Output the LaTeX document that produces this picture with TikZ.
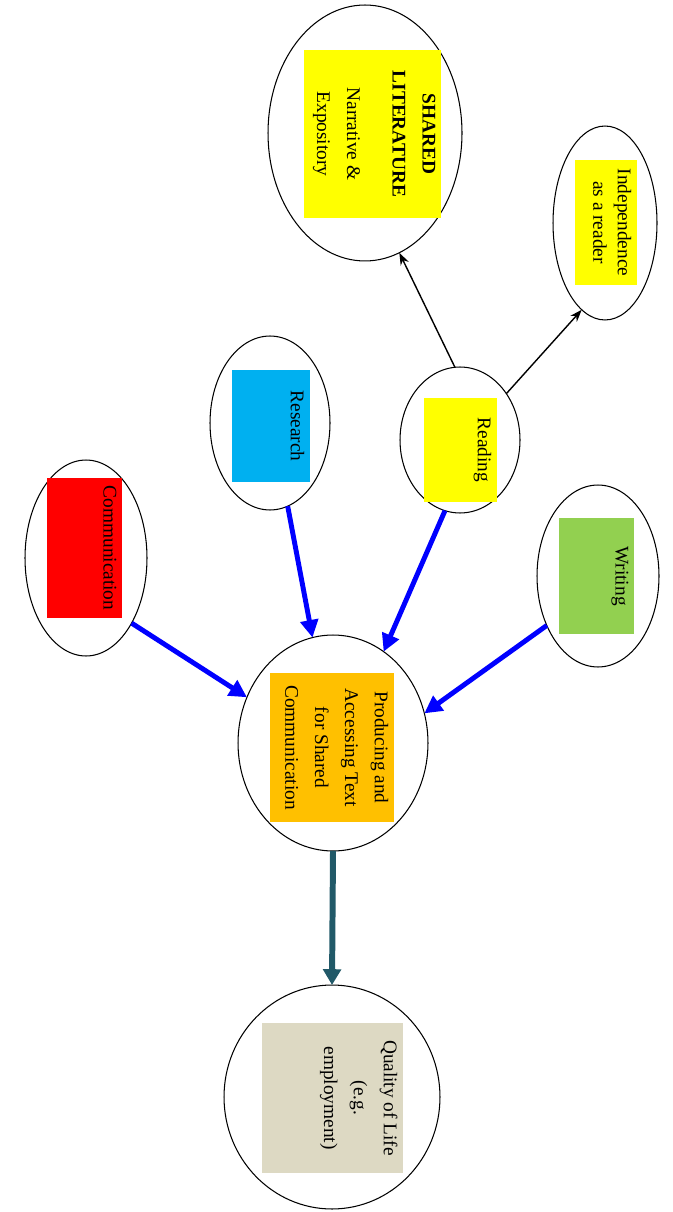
\documentclass[tikz,border=0pt]{standalone}
\usepackage{fontspec}
\setmainfont{Liberation Serif}
\usetikzlibrary{shapes,arrows.meta,positioning,calc}
\definecolor{litYellow}{RGB}{255,255,0}
\definecolor{resBlue}{RGB}{0,176,240}
\definecolor{comRed}{RGB}{255,0,0}
\definecolor{wriGreen}{RGB}{146,208,80}
\definecolor{proOrange}{RGB}{255,192,0}
\definecolor{qolBeige}{RGB}{221,217,195}
\definecolor{outTeal}{RGB}{33,89,104}

\begin{document}
\begin{tikzpicture}[x=0.02cm,y=-0.02cm]
        % Define styles
        \tikzstyle{bubble} = [ellipse, draw, line width=0.6pt, inner sep=0pt, outer sep=0pt]
        \tikzstyle{box} = [rectangle, inner sep=0pt, outer sep=0pt]
        \tikzstyle{txt} = [rotate=-90, anchor=north, align=center, inner sep=3pt,
            font=\fontsize{11}{17}\selectfont]
        \tikzstyle{link} = [line width=0.8pt, -{Stealth[length=7pt,width=5pt]}]
        \tikzstyle{feed} = [line width=2.8pt, blue, -{Triangle[length=10pt,width=10pt]}]
        \tikzstyle{outcome} = [line width=3.4pt, outTeal, -{Triangle[length=9pt,width=10pt]}]

        \useasboundingbox (0,0) rectangle (672,1212);

        % Ellipses
        \node [bubble, minimum width=3.88cm, minimum height=5.12cm] (lit) at (365,133) {};
        \node [bubble, minimum width=2.08cm, minimum height=3.88cm] (indep) at (605,223) {};
        \node [bubble, minimum width=2.4cm, minimum height=3.48cm] (research) at (270,423) {};
        \node [bubble, minimum width=2.4cm, minimum height=2.92cm] (reading) at (460,440) {};
        \node [bubble, minimum width=2.44cm, minimum height=3.92cm] (comm) at (86,558) {};
        \node [bubble, minimum width=2.44cm, minimum height=3.64cm] (writing) at (598,576) {};
        \node [bubble, minimum width=3.8cm, minimum height=4.32cm] (prod) at (333,743) {};
        \node [bubble, minimum width=4.32cm, minimum height=4.48cm] (qual) at (332,1097) {};

        % Coloured boxes
        \node [box, fill=litYellow, minimum width=2.74cm, minimum height=3.36cm] (litbox) at (372.5,134) {};
        \node [box, fill=litYellow, minimum width=1.24cm, minimum height=2.5cm] (indepbox) at (606,222.5) {};
        \node [box, fill=resBlue, minimum width=1.56cm, minimum height=2.24cm] (researchbox) at (271,426) {};
        \node [box, fill=litYellow, minimum width=1.46cm, minimum height=2.08cm] (readingbox) at (460.5,450) {};
        \node [box, fill=comRed, minimum width=1.5cm, minimum height=2.8cm] (commbox) at (84.5,548) {};
        \node [box, fill=wriGreen, minimum width=1.5cm, minimum height=2.32cm] (writingbox) at (596.5,576) {};
        \node [box, fill=proOrange, minimum width=2.48cm, minimum height=2.98cm] (prodbox) at (332,747.5) {};
        \node [box, fill=qolBeige, minimum width=2.82cm, minimum height=3cm] (qualbox) at (332.5,1098) {};

        % Texts
        \node [txt] (littext) at (litbox.east)
            {\textbf{SHARED}\\\textbf{LITERATURE}\\[9pt]Narrative \&\\Expository};
        \node [txt, font=\fontsize{11}{14}\selectfont] (indeptext) at (indepbox.east) {Independence\\as a reader};
        \node [txt] (researchtext) at (researchbox.east) {Research};
        \node [txt] (readingtext) at (readingbox.east) {Reading};
        \node [txt] (commtext) at (commbox.east) {Communication};
        \node [txt] (writingtext) at (writingbox.east) {Writing};
        \node [txt] (prodtext) at (prodbox.east)
            {Producing and\\Accessing Text\\for Shared\\Communication};
        \node [txt] (qualtext) at (qualbox.east) {Quality of Life\\(e.g.\\employment)};

        % Arrows
        \draw [link] (reading.94) -- (lit.-74);
        \draw [link] (reading.45) -- (indep.-105);
        \draw [feed] (comm.-55) -- (prod.152);
        \draw [feed] (research.-78) -- (prod.101);
        \draw [feed] (reading.-102) -- (prod.61);
        \draw [feed] (writing.-136) -- (prod.18);
        \draw [outcome] (prod.south) -- (qual.north);
    \end{tikzpicture}
\end{document}
